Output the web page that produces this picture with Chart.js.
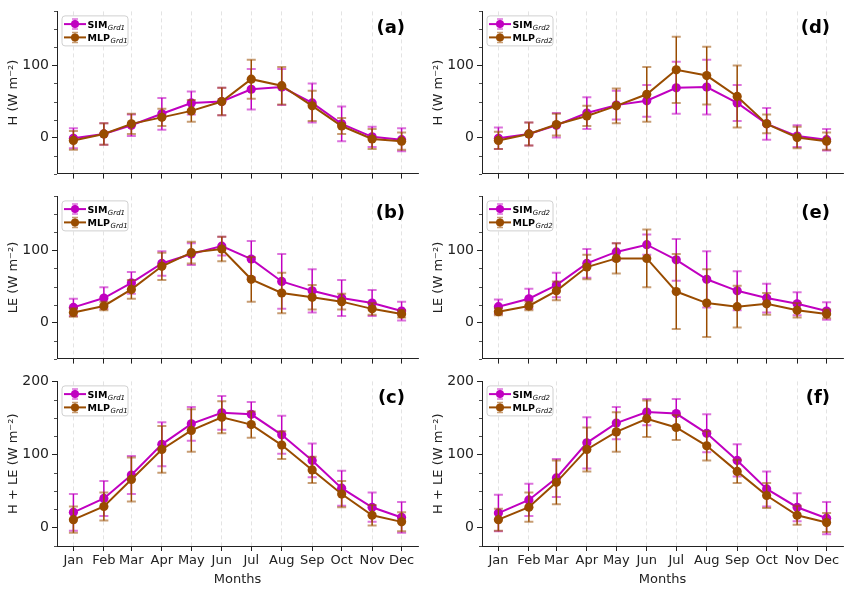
<!DOCTYPE html>
<html>
<head>
<meta charset="utf-8">
<script src="https://cdn.jsdelivr.net/npm/chart.js@4.4.0/dist/chart.umd.min.js"></script>
<style>
html, body { margin: 0; padding: 0; background: #fff; }
#fig { position: relative; width: 851px; height: 591px; overflow: hidden; }
.panel { position: absolute; }
</style>
</head>
<body>
<div id="fig"></div>
<script>
const months = ["Jan", "Feb", "Mar", "Apr", "May", "Jun", "Jul", "Aug", "Sep", "Oct", "Nov", "Dec"];
// day of year at the start of each month (x positions)
const monthDay = [1, 32, 60, 91, 121, 152, 182, 213, 244, 274, 305, 335];

// (a) H, Grd1
const simH1 = [-1, 5, 17, 33, 48, 50, 67, 70, 48, 19, 1, -3];
const simH1Err = [14, 15, 15, 22, 16, 19, 28, 25, 27, 24, 14, 16];
const mlpH1 = [-4, 5, 19, 28, 37, 50, 81, 72, 44, 16, -2, -5];
const mlpH1Err = [13, 15, 14, 12, 15, 19, 27, 26, 21, 11, 14, 12];

// (b) LE, Grd1
const simLE1 = [21, 34, 55, 82, 95, 106, 88, 57, 44, 34, 27, 16];
const simLE1Err = [12, 15, 15, 17, 15, 13, 25, 38, 30, 25, 18, 13];
const mlpLE1 = [14, 23, 46, 78, 97, 102, 60, 41, 35, 29, 19, 12];
const mlpLE1Err = [6, 6, 13, 19, 15, 17, 31, 28, 17, 11, 8, 5];

// (c) H + LE, Grd1
const simHL1 = [21, 40, 72, 114, 142, 157, 155, 127, 92, 54, 28, 14];
const simHL1Err = [25, 24, 26, 30, 23, 23, 17, 26, 23, 24, 20, 21];
const mlpHL1 = [11, 29, 66, 107, 133, 151, 141, 113, 79, 46, 17, 8];
const mlpHL1Err = [18, 19, 30, 32, 29, 22, 18, 19, 18, 18, 14, 13];

// (d) H, Grd2
const simH2 = [-1, 5, 17, 34, 45, 51, 69, 70, 48, 19, 2, -3];
const simH2Err = [15, 16, 17, 22, 20, 22, 36, 38, 25, 22, 15, 15];
const mlpH2 = [-4, 5, 18, 30, 44, 60, 94, 86, 57, 19, 0, -5];
const mlpH2Err = [12, 16, 15, 14, 24, 38, 46, 40, 43, 13, 15, 12];

// (e) LE, Grd2
const simLE2 = [22, 33, 52, 82, 98, 108, 87, 60, 44, 34, 26, 16];
const simLE2Err = [10, 14, 17, 20, 12, 14, 29, 39, 27, 20, 16, 12];
const mlpLE2 = [15, 23, 44, 77, 89, 89, 43, 27, 22, 26, 17, 12];
const mlpLE2Err = [5, 6, 13, 17, 21, 40, 52, 47, 29, 15, 10, 6];

// (f) H + LE, Grd2
const simHL2 = [20, 38, 68, 116, 143, 158, 156, 129, 92, 53, 28, 13];
const simHL2Err = [25, 22, 26, 35, 22, 18, 20, 26, 22, 24, 19, 22];
const mlpHL2 = [11, 28, 62, 107, 131, 149, 137, 112, 77, 44, 17, 7];
const mlpHL2Err = [15, 20, 30, 30, 27, 25, 17, 20, 16, 17, 13, 13];

const topMajor = [0, 100];
const topMinor = [-50, -25, 25, 50, 75, 125, 150, 175];
const botMajor = [0, 100, 200];
const botMinor = [-25, 25, 50, 75, 125, 150, 175];

const FONT = "'DejaVu Sans', sans-serif";
const INK = "#222";
const SIM_COLOR = "#c000c0";
const MLP_COLOR = "#994c00";
const SIM_FADE = "rgba(192, 0, 192, 0.55)";
const MLP_FADE = "rgba(153, 76, 0, 0.55)";

const panels = [
	{ tag: "(a)", col: 0, row: 0, yTitle: "H (W m\u207B\u00B2)", grd: "Grd1", sim: simH1, simErr: simH1Err, mlp: mlpH1, mlpErr: mlpH1Err },
	{ tag: "(b)", col: 0, row: 1, yTitle: "LE (W m\u207B\u00B2)", grd: "Grd1", sim: simLE1, simErr: simLE1Err, mlp: mlpLE1, mlpErr: mlpLE1Err },
	{ tag: "(c)", col: 0, row: 2, yTitle: "H + LE (W m\u207B\u00B2)", grd: "Grd1", sim: simHL1, simErr: simHL1Err, mlp: mlpHL1, mlpErr: mlpHL1Err },
	{ tag: "(d)", col: 1, row: 0, yTitle: "H (W m\u207B\u00B2)", grd: "Grd2", sim: simH2, simErr: simH2Err, mlp: mlpH2, mlpErr: mlpH2Err },
	{ tag: "(e)", col: 1, row: 1, yTitle: "LE (W m\u207B\u00B2)", grd: "Grd2", sim: simLE2, simErr: simLE2Err, mlp: mlpLE2, mlpErr: mlpLE2Err },
	{ tag: "(f)", col: 1, row: 2, yTitle: "H + LE (W m\u207B\u00B2)", grd: "Grd2", sim: simHL2, simErr: simHL2Err, mlp: mlpHL2, mlpErr: mlpHL2Err },
];

const colLeft = [0, 425];
const colWidth = [425, 426];
const colRightPad = [7, 8];
const rowTop = [0, 185, 370];
const rowHeight = [185, 185, 221];

// error bars drawn just before each line so markers sit on top
const errorBarPlugin = {
	id: "errorBars",
	beforeDatasetDraw(chart, args) {
		const ds = chart.data.datasets[args.index];
		if (!ds.errors) return;
		const xs = chart.scales.x, ys = chart.scales.y;
		const ctx = chart.ctx;
		ctx.save();
		ds.data.forEach((p, i) => {
			const x = xs.getPixelForValue(p.x);
			const yTop = ys.getPixelForValue(p.y + ds.errors[i]);
			const yBot = ys.getPixelForValue(p.y - ds.errors[i]);
			ctx.strokeStyle = ds.borderColor;
			ctx.lineWidth = 1.5;
			ctx.beginPath();
			ctx.moveTo(x, yTop);
			ctx.lineTo(x, yBot);
			ctx.stroke();
			ctx.strokeStyle = ds.fadeColor;
			ctx.lineWidth = 2;
			ctx.beginPath();
			ctx.moveTo(x - 4.5, yTop); ctx.lineTo(x + 4.5, yTop);
			ctx.moveTo(x - 4.5, yBot); ctx.lineTo(x + 4.5, yBot);
			ctx.stroke();
		});
		ctx.restore();
	}
};

function makeDecorPlugin(panel, minorTicks) {
	return {
		id: "decor",
		afterDraw(chart) {
			const ctx = chart.ctx;
			const ca = chart.chartArea;
			const ys = chart.scales.y;
			ctx.save();
			// minor ticks on the y axis
			ctx.strokeStyle = INK;
			ctx.lineWidth = 0.8;
			ctx.beginPath();
			minorTicks.forEach(v => {
				const y = Math.round(ys.getPixelForValue(v)) + 0.5;
				ctx.moveTo(ca.left - 3, y);
				ctx.lineTo(ca.left, y);
			});
			ctx.stroke();

			// panel tag
			ctx.fillStyle = "#000";
			ctx.font = "bold 18px " + FONT;
			ctx.textAlign = "right";
			ctx.textBaseline = "middle";
			ctx.fillText(panel.tag, ca.right - 13, ca.top + 17);

			// legend
			const lx = ca.left + 5, ly = ca.top + 4.5, lw = 66, lh = 30;
			ctx.beginPath();
			ctx.roundRect(lx, ly, lw, lh, 3);
			ctx.fillStyle = "rgba(255,255,255,0.85)";
			ctx.fill();
			ctx.strokeStyle = "#d0d0d0";
			ctx.lineWidth = 1;
			ctx.stroke();
			const rows = [
				{ name: "SIM", color: SIM_COLOR, fade: SIM_FADE, y: ca.top + 12.7 },
				{ name: "MLP", color: MLP_COLOR, fade: MLP_FADE, y: ca.top + 26 },
			];
			rows.forEach(r => {
				const mx = lx + 13;
				ctx.strokeStyle = r.color;
				ctx.lineWidth = 2;
				ctx.beginPath();
				ctx.moveTo(lx + 2, r.y);
				ctx.lineTo(lx + 24, r.y);
				ctx.stroke();
				ctx.strokeStyle = r.fade;
				ctx.lineWidth = 1.5;
				ctx.beginPath();
				ctx.moveTo(mx, r.y - 5); ctx.lineTo(mx, r.y + 5);
				ctx.moveTo(mx - 3, r.y - 5); ctx.lineTo(mx + 3, r.y - 5);
				ctx.moveTo(mx - 3, r.y + 5); ctx.lineTo(mx + 3, r.y + 5);
				ctx.stroke();
				ctx.fillStyle = r.color;
				ctx.beginPath();
				ctx.arc(mx, r.y, 4, 0, Math.PI * 2);
				ctx.fill();
				ctx.fillStyle = "#000";
				ctx.textAlign = "left";
				ctx.textBaseline = "alphabetic";
				ctx.font = "bold 9.5px " + FONT;
				ctx.fillText(r.name, lx + 25.5, r.y + 3.5);
				const w = ctx.measureText(r.name).width;
				ctx.font = "italic 7px " + FONT;
				ctx.fillText(panel.grd, lx + 25.5 + w + 0.5, r.y + 5.5);
			});
			ctx.restore();
		}
	};
}

const fig = document.getElementById("fig");
const xPad = (monthDay[11] - monthDay[0]) * 0.05;

panels.forEach(panel => {
	const isBottom = panel.row === 2;
	const w = colWidth[panel.col], h = rowHeight[panel.row];
	const div = document.createElement("div");
	div.className = "panel";
	div.style.left = colLeft[panel.col] + "px";
	div.style.top = rowTop[panel.row] + "px";
	div.style.width = w + "px";
	div.style.height = h + "px";
	const canvas = document.createElement("canvas");
	canvas.width = w;
	canvas.height = h;
	canvas.style.width = w + "px";
	canvas.style.height = h + "px";
	div.appendChild(canvas);
	fig.appendChild(div);

	const majors = isBottom ? botMajor : topMajor;
	const minors = isBottom ? botMinor : topMinor;

	new Chart(canvas, {
		type: "line",
		data: {
			datasets: [
				{
					label: "SIM" + panel.grd,
					data: panel.sim.map((v, i) => ({ x: monthDay[i], y: v })),
					errors: panel.simErr,
					borderColor: SIM_COLOR,
					backgroundColor: SIM_COLOR,
					fadeColor: SIM_FADE,
					order: 1,
				},
				{
					label: "MLP" + panel.grd,
					data: panel.mlp.map((v, i) => ({ x: monthDay[i], y: v })),
					errors: panel.mlpErr,
					borderColor: MLP_COLOR,
					backgroundColor: MLP_COLOR,
					fadeColor: MLP_FADE,
					order: 0,
				},
			]
		},
		options: {
			responsive: false,
			animation: false,
			devicePixelRatio: 1,
			layout: { padding: { top: 8, right: colRightPad[panel.col], left: 0, bottom: 0 } },
			elements: {
				line: { borderWidth: 2, tension: 0 },
				point: { radius: 4.6, borderWidth: 0, hoverRadius: 4.6 }
			},
			plugins: {
				legend: { display: false },
				tooltip: { enabled: false }
			},
			scales: {
				x: {
					type: "linear",
					min: monthDay[0] - xPad,
					max: monthDay[11] + xPad,
					afterBuildTicks: s => { s.ticks = monthDay.map(v => ({ value: v })); },
					afterFit: s => { s.height = isBottom ? 45 : 9; },
					ticks: {
						display: isBottom,
						autoSkip: false,
						maxRotation: 0,
						padding: 2,
						color: INK,
						font: { family: FONT, size: 13 },
						callback: (v, i) => months[i]
					},
					grid: { color: "#dcdcdc", lineWidth: 0.8, tickColor: INK, tickLength: 5, tickWidth: 1 },
					border: { color: INK, width: 1, dash: [4, 3] },
					title: {
						display: isBottom,
						text: "Months",
						color: INK,
						font: { family: FONT, size: 13 },
						padding: { top: 0, bottom: 4 }
					}
				},
				y: {
					type: "linear",
					min: isBottom ? -25 : -50,
					max: isBottom ? 200 : 175,
					afterBuildTicks: s => { s.ticks = majors.map(v => ({ value: v })); },
					afterFit: s => { s.width = 57; },
					ticks: { color: INK, padding: 3, font: { family: FONT, size: 14 } },
					grid: { drawOnChartArea: false, tickColor: INK, tickLength: 5, tickWidth: 1 },
					border: { color: INK, width: 1 },
					title: {
						display: true,
						text: panel.yTitle,
						color: INK,
						font: { family: FONT, size: 13 },
						padding: { top: 6, bottom: 0 }
					}
				}
			}
		},
		plugins: [errorBarPlugin, makeDecorPlugin(panel, minors)]
	});
});
</script>
</body>
</html>
